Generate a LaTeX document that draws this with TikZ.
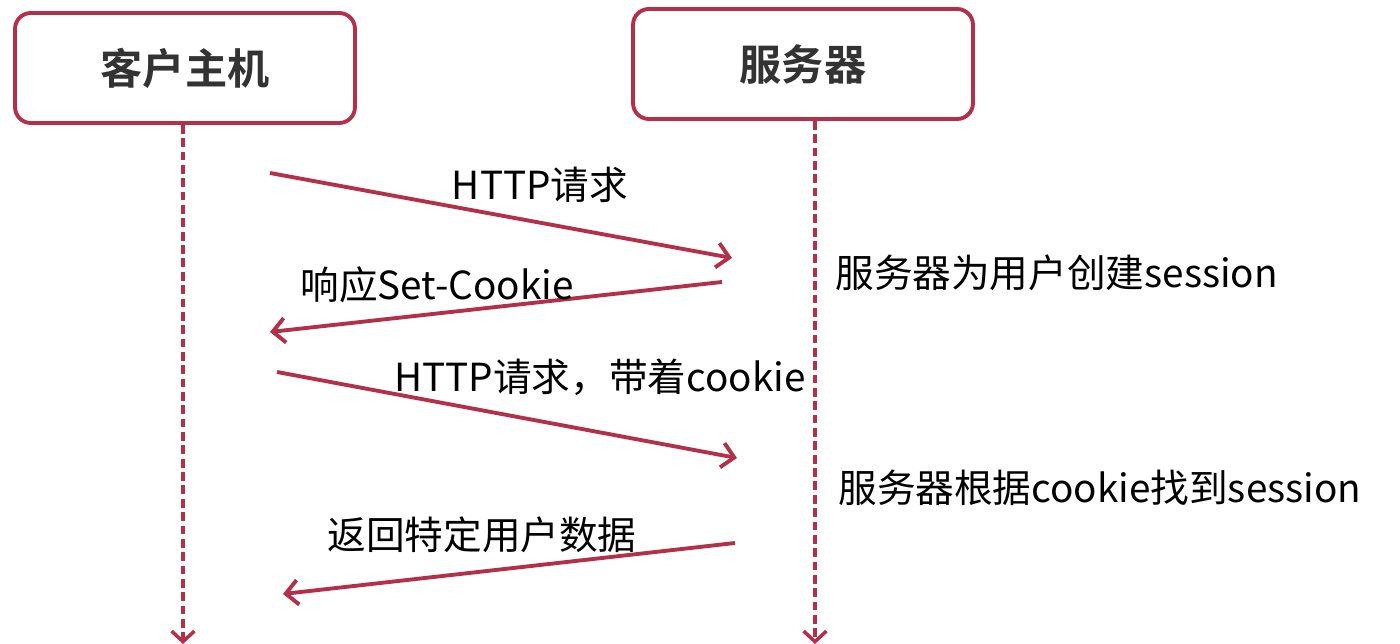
\documentclass[tikz,border=0pt]{standalone}
\usepackage{fontspec}
\usepackage{tikz}
\usetikzlibrary{arrows.meta,calc,positioning}
\setmainfont{Noto Sans CJK SC}
\newfontfamily\cjk{Noto Sans CJK SC}
\newfontfamily\cjkbold{Noto Sans CJK SC Bold}
\definecolor{crimson}{HTML}{B4304A}
\definecolor{titlegray}{HTML}{333333}

\begin{document}
\begin{tikzpicture}[x=0.02cm, y=-0.02cm,
  host/.style={draw=crimson, line width=2.2pt, rounded corners=9pt, fill=white,
    minimum width=6.8cm, minimum height=2.2cm, font=\cjkbold\fontsize{24}{28}\selectfont, text=titlegray},
  lifeline/.style={draw=crimson, line width=2.4pt, dash pattern=on 5pt off 2.6pt,
    -{Straight Barb[length=6pt,width=13pt,line width=2pt]}},
  msg/.style={draw=crimson, line width=2.2pt,
    -{Straight Barb[length=7pt,width=14pt,line width=2.2pt]}},
  label/.style={font=\cjk\fontsize{22}{26}\selectfont, inner sep=0pt}]

\useasboundingbox (0,0) rectangle (1400,644);

% hosts
\node[host] (client) at (185,68) {客户主机};
\node[host] (server) at (803,64) {服务器};

% lifelines
\coordinate (cend) at (183,644);
\coordinate (send) at (815,644);
\draw[lifeline] (client.south -| cend) -- (cend);
\draw[lifeline] (server.south -| send) -- (send);

% message end points
\coordinate (r1a) at (270,173);
\coordinate (r1b) at (732,258);
\coordinate (r2a) at (722,282);
\coordinate (r2b) at (270,332);
\coordinate (r3a) at (277,372);
\coordinate (r3b) at (737,458);
\coordinate (r4a) at (735,543);
\coordinate (r4b) at (283,594);

\draw[msg] (r1a) -- (r1b);
\draw[msg] (r2a) -- (r2b);
\draw[msg] (r3a) -- (r3b);
\draw[msg] (r4a) -- (r4b);

% labels
\node[label] (l1) at (540,185) {HTTP请求};
\node[label] (l2) at (437,285) {响应Set-Cookie};
\node[label] (l3) at (600,377) {HTTP请求，带着cookie};
\node[label] (l4) at (482,535) {返回特定用户数据};

\node[label, anchor=west] (n1) at (835,273) {服务器为用户创建session};
\node[label, anchor=west] (n2) at (838,488) {服务器根据cookie找到session};

\end{tikzpicture}
\end{document}
